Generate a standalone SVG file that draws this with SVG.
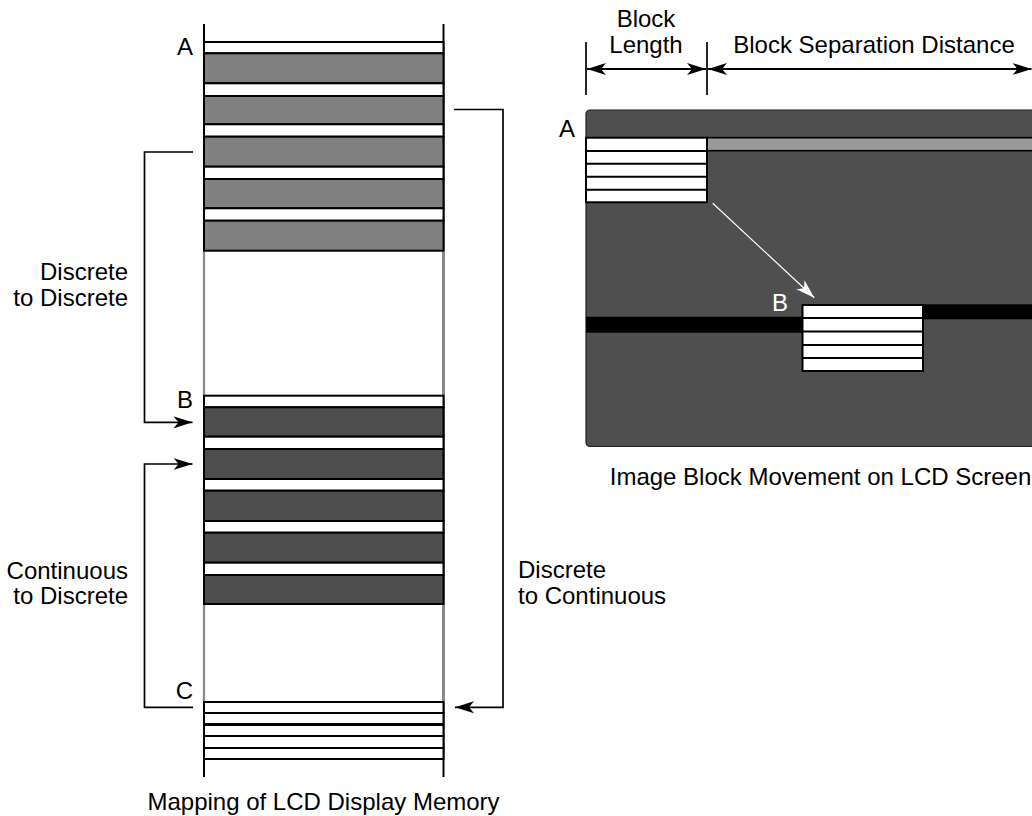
<svg xmlns="http://www.w3.org/2000/svg" width="1032" height="816" viewBox="0 0 1032 816">
<style>
  text { font-family: "Liberation Sans", Arial, sans-serif; font-size: 24px; fill: #000; }
  .end { text-anchor: end; }
  .mid { text-anchor: middle; }
  .w { fill: #fff; stroke: #000; stroke-width: 2; }
  .g { fill: #808080; stroke: #000; stroke-width: 2; }
  .d { fill: #4d4d4d; stroke: #000; stroke-width: 2; }
  .ln { stroke: #000; stroke-width: 2; fill: none; }
  .br { stroke: #000; stroke-width: 1.7; fill: none; }
</style>
<defs>
  <marker id="ah" markerUnits="userSpaceOnUse" markerWidth="20" markerHeight="14" refX="19" refY="6" orient="auto-start-reverse" viewBox="0 0 20 12">
    <path d="M0,0 L19,6 L0,12 L5,6 Z" fill="#000"/>
  </marker>
  <marker id="ahw" markerUnits="userSpaceOnUse" markerWidth="20" markerHeight="14" refX="19" refY="6" orient="auto" viewBox="0 0 20 12">
    <path d="M0,0 L19,6 L0,12 L5,6 Z" fill="#fff"/>
  </marker>
</defs>

<g id="memory-column">
  <line x1="204" y1="24" x2="204" y2="777" class="ln"/>
  <line x1="443.5" y1="24" x2="443.5" y2="777" class="ln"/>
  <line x1="204" y1="251" x2="204" y2="395" stroke="#8a8a8a" stroke-width="2.2"/>
  <line x1="443.5" y1="251" x2="443.5" y2="395" stroke="#8a8a8a" stroke-width="2.2"/>
  <line x1="204" y1="605" x2="204" y2="701" stroke="#8a8a8a" stroke-width="2.2"/>
  <line x1="443.5" y1="605" x2="443.5" y2="701" stroke="#8a8a8a" stroke-width="2.2"/>
</g>

<g id="block-A-memory">
  <rect x="204" y="42" width="239.5" height="11.3" class="w"/>
  <rect x="204" y="53.3" width="239.5" height="30" class="g"/>
  <rect x="204" y="83.3" width="239.5" height="12.7" class="w"/>
  <rect x="204" y="96" width="239.5" height="28.3" class="g"/>
  <rect x="204" y="124.3" width="239.5" height="12.4" class="w"/>
  <rect x="204" y="136.7" width="239.5" height="30" class="g"/>
  <rect x="204" y="166.7" width="239.5" height="12.3" class="w"/>
  <rect x="204" y="179" width="239.5" height="29.3" class="g"/>
  <rect x="204" y="208.3" width="239.5" height="12.4" class="w"/>
  <rect x="204" y="220.7" width="239.5" height="30" class="g"/>
  <text x="193" y="55" class="end">A</text>
</g>

<g id="block-B-memory">
  <rect x="204" y="395.7" width="239.5" height="11.6" class="w"/>
  <rect x="204" y="407.3" width="239.5" height="29.4" class="d"/>
  <rect x="204" y="436.7" width="239.5" height="12.3" class="w"/>
  <rect x="204" y="449" width="239.5" height="30" class="d"/>
  <rect x="204" y="479" width="239.5" height="11.7" class="w"/>
  <rect x="204" y="490.7" width="239.5" height="30.3" class="d"/>
  <rect x="204" y="521" width="239.5" height="11.7" class="w"/>
  <rect x="204" y="532.7" width="239.5" height="30" class="d"/>
  <rect x="204" y="562.7" width="239.5" height="12.3" class="w"/>
  <rect x="204" y="575" width="239.5" height="29" class="d"/>
  <text x="193" y="408" class="end">B</text>
</g>

<g id="block-C-memory">
  <rect x="204" y="702" width="239.5" height="11" class="w"/>
  <rect x="204" y="713" width="239.5" height="11" class="w"/>
  <rect x="204" y="725" width="239.5" height="11" class="w"/>
  <rect x="204" y="736" width="239.5" height="12" class="w"/>
  <rect x="204" y="748" width="239.5" height="11" class="w"/>
  <text x="193" y="699" class="end">C</text>
</g>

<g id="labels-left">
  <text x="128" y="280" class="end">Discrete</text>
  <text x="128" y="306" class="end">to Discrete</text>
  <text x="128" y="579" class="end">Continuous</text>
  <text x="128" y="604" class="end">to Discrete</text>
  <text x="518" y="578">Discrete</text>
  <text x="518" y="604">to Continuous</text>
  <text x="323.5" y="810" class="mid">Mapping of LCD Display Memory</text>
</g>

<g id="lcd-screen">
  <rect x="586" y="110" width="470" height="336.5" rx="4" fill="#4f4f4f" stroke="#222" stroke-width="1.2"/>
  <rect x="707" y="137.7" width="340" height="13" fill="#999" stroke="#000" stroke-width="1.6"/>
  <rect x="586" y="316.7" width="217" height="16" fill="#000"/>
  <rect x="922" y="304.3" width="120" height="15" fill="#000"/>
  <text x="575" y="137" class="end">A</text>
  <text x="788" y="311" class="end" style="fill:#fff">B</text>
</g>

<g id="block-A-screen">
  <rect x="586" y="137.7" width="121" height="64.6" class="w"/>
  <line x1="586" y1="151" x2="707" y2="151" class="ln"/>
  <line x1="586" y1="163.7" x2="707" y2="163.7" class="ln"/>
  <line x1="586" y1="176.7" x2="707" y2="176.7" class="ln"/>
  <line x1="586" y1="189.7" x2="707" y2="189.7" class="ln"/>
</g>

<g id="block-B-screen">
  <rect x="802.5" y="305" width="120.5" height="66" class="w"/>
  <line x1="802.5" y1="318" x2="923" y2="318" class="ln"/>
  <line x1="802.5" y1="331.5" x2="923" y2="331.5" class="ln"/>
  <line x1="802.5" y1="345" x2="923" y2="345" class="ln"/>
  <line x1="802.5" y1="358" x2="923" y2="358" class="ln"/>
</g>

<g id="dimension-labels">
  <text x="646" y="27" class="mid">Block</text>
  <text x="646" y="53" class="mid">Length</text>
  <text x="874" y="53" class="mid">Block Separation Distance</text>
  <text x="820.5" y="485" class="mid">Image Block Movement on LCD Screen</text>
</g>

<g id="connectors">
  <line x1="586" y1="42" x2="586" y2="95" class="br"/>
  <line x1="707" y1="42" x2="707" y2="95" class="br"/>
  <line x1="587" y1="69" x2="706" y2="69" class="ln" marker-start="url(#ah)" marker-end="url(#ah)"/>
  <line x1="708" y1="69" x2="1031.5" y2="69" class="ln" marker-start="url(#ah)" marker-end="url(#ah)"/>
  <line x1="712.7" y1="203.3" x2="814.3" y2="297.7" stroke="#fff" stroke-width="1.2" marker-end="url(#ahw)"/>
  <polyline points="193,152 144.5,152 144.5,422.3 192.5,422.3" class="br" marker-end="url(#ah)"/>
  <polyline points="193,707.3 144.5,707.3 144.5,464 192.5,464" class="br" marker-end="url(#ah)"/>
  <polyline points="454,109.5 503,109.5 503,707.3 455,707.3" class="br" marker-end="url(#ah)"/>
</g>
</svg>
